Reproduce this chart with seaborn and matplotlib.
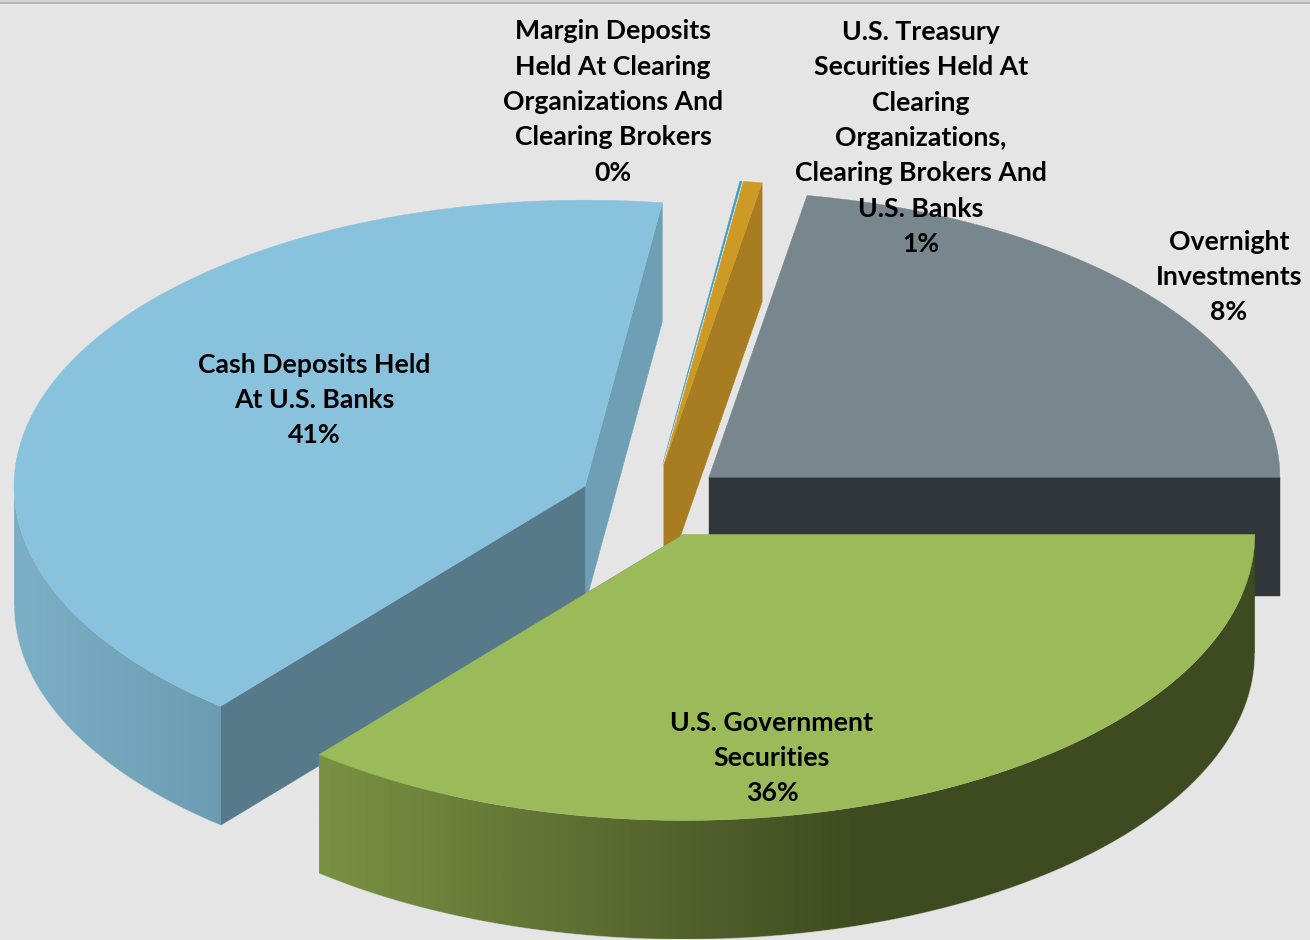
import numpy as np
import matplotlib
matplotlib.use("Agg")
import matplotlib.pyplot as plt
from matplotlib.colors import LinearSegmentedColormap
from matplotlib.patches import Polygon
import seaborn as sns

# ---- data ----------------------------------------------------------------
# listed counter-clockwise starting at the 3 o'clock position
names = ["Overnight\nInvestments",
         "U.S. Treasury\nSecurities Held At\nClearing\nOrganizations,\nClearing Brokers And\nU.S. Banks",
         "Margin Deposits\nHeld At Clearing\nOrganizations And\nClearing Brokers",
         "Cash Deposits Held\nAt U.S. Banks",
         "U.S. Government\nSecurities"]
printed_pct = ["8%", "1%", "0%", "41%", "36%"]
# angular shares as they appear in the picture (the printed 8% does not match its wedge)
drawn_share = [22.25, 0.53, 0.06, 41.14, 36.02]
top_colors = ["#78868D", "#CE9A26", "#3E9FBF", "#89C2DD", "#9BBA5A"]
cut_colors = ["#30363A", "#A87C20", "#2F8BA8", "#6F9FB4", "#7A9143"]
front_cut_colors = ["#30363A", "#A87C20", "#2F8BA8", "#577A8A", "#7A9143"]
rim_palettes = [["#30363A", "#30363A"], ["#A87C20", "#A87C20"], ["#2F8BA8", "#2F8BA8"],
                ["#7CB0C6", "#6B9CB2"], ["#7A9143", "#3E4A20"]]
label_pos = [(1229, 277), (921, 138), (613, 102), (314, 400), (772, 758)]
draw_order = [0, 2, 1, 3, 4]

# ---- layout --------------------------------------------------------------
W, H = 1310, 940
CX, CY, A, B = 652.5, 501, 571, 286
DEPTH = 119
EXPLODE = 0.129
BG = "#E5E5E5"

sns.set_theme(style="white")
plt.rcParams["font.family"] = ["Lato", "DejaVu Sans"]

fig = plt.figure(figsize=(W / 100, H / 100), dpi=100, facecolor=BG)
ax = fig.add_axes([0, 0, 1, 1])
ax.axis("off")

ax.axhline(0.8, color="#D2D2D2", lw=1.2, zorder=0)
ax.axhline(2.6, color="#ADADAD", lw=1.2, zorder=0)


def ell(t_deg, cx, cy):
    t = np.radians(t_deg)
    return cx + A * np.cos(t), cy - B * np.sin(t)


edges = np.concatenate([[0], np.cumsum(drawn_share)]) / np.sum(drawn_share) * 360

z = 1
for i in draw_order:
    t0, t1 = edges[i], edges[i + 1]
    mid = (t0 + t1) / 2
    ox = CX + EXPLODE * A * np.cos(np.radians(mid))
    oy = CY - EXPLODE * B * np.sin(np.radians(mid))
    ts = np.linspace(t0, t1, max(int((t1 - t0) * 4), 4))
    ex0, ey0 = ell(t0, ox, oy)
    ex1, ey1 = ell(t1, ox, oy)

    if i == 2:
        # the 0% sliver only shows as a hairline beside the orange wedge
        ax.plot([ox + 1, ox + 1], [oy, oy + DEPTH - 8], color=cut_colors[i], lw=1.0, zorder=z)
        z += 1
    else:
        wall0 = [(ox, oy), (ex0, ey0), (ex0, ey0 + DEPTH), (ox, oy + DEPTH)]
        ax.add_patch(Polygon(wall0, closed=True, fc=cut_colors[i], ec=cut_colors[i], lw=0.3, zorder=z))
        z += 1

    if 180 < t1 < 300:
        wall1 = [(ox, oy), (ex1, ey1), (ex1, ey1 + DEPTH), (ox, oy + DEPTH)]
        ax.add_patch(Polygon(wall1, closed=True, fc=front_cut_colors[i], ec=front_cut_colors[i], lw=0.3, zorder=z))
        z += 1

    # outer rim, front half only, with a smooth horizontal gradient
    lo, hi = max(t0, 180), min(t1, 360)
    if hi > lo:
        rt = np.linspace(lo, hi, 400)
        xs, ys = ell(rt, ox, oy)
        outline = list(zip(xs, ys)) + list(zip(xs[::-1], ys[::-1] + DEPTH))
        clip = Polygon(outline, closed=True, fc="none", ec="none", transform=ax.transData)
        ax.add_patch(clip)
        span = 550 if i == 4 else (xs.max() - xs.min())
        x_left = xs.min()
        cmap = LinearSegmentedColormap.from_list(f"rim{i}", sns.blend_palette(rim_palettes[i], 64))
        im = ax.imshow(np.linspace(0, 1, 512)[None, :], cmap=cmap, aspect="auto", vmin=0, vmax=1,
                       extent=(x_left, x_left + span, ys.max() + DEPTH, ys.min()), zorder=z)
        if i == 4:
            # everything right of the gradient stays at its darkest colour
            ax.add_patch(Polygon([(x_left + span - 1, ys.min() - 1), (xs.max() + 2, ys.min() - 1),
                                  (xs.max() + 2, ys.max() + DEPTH + 2), (x_left + span - 1, ys.max() + DEPTH + 2)],
                                 closed=True, fc=rim_palettes[i][-1], ec="none", zorder=z,
                                 clip_path=clip))
        im.set_clip_path(clip)
        # soften the aliased clip edge along the bottom of the rim
        ax.plot(xs, ys + DEPTH, color=BG, lw=0.6, alpha=0.5, zorder=z)
        z += 1

    # top face
    xs, ys = ell(ts, ox, oy)
    pts = [(ox, oy)] + list(zip(xs, ys))
    ax.add_patch(Polygon(pts, closed=True, fc=top_colors[i], ec=top_colors[i], lw=0.3, zorder=z))
    z += 1

ax.set_xlim(0, W)
ax.set_ylim(H, 0)

for name, pct, (lx, ly) in zip(names, printed_pct, label_pos):
    ax.text(lx, ly, f"{name}\n{pct}", ha="center", va="center", fontsize=19.2,
            fontweight="bold", color="black", linespacing=1.565, zorder=100)

fig.savefig("out.png", dpi=100, facecolor=BG)
